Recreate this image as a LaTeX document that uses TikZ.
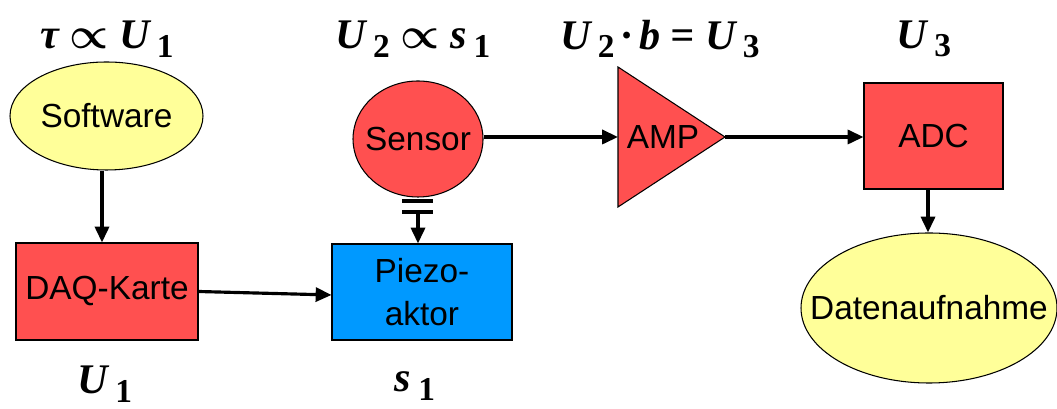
\documentclass[tikz,border=0pt]{standalone}
\usepackage{amsmath}
\usepackage{fontspec}
\setmainfont{Liberation Serif}
\setsansfont{Liberation Sans}
\usetikzlibrary{arrows.meta,shapes.geometric}

\definecolor{boxred}{HTML}{FF5050}
\definecolor{boxyellow}{HTML}{FFFF99}
\definecolor{boxblue}{HTML}{0099FF}

\newcommand{\idx}[1]{\,\raisebox{-0.45ex}{\upshape\fontsize{19}{19}\selectfont #1}}

\begin{document}
\begin{tikzpicture}[
  block/.style={draw, line width=0.6pt, fill=boxred, font=\sffamily\fontsize{19}{24}\selectfont, align=center, inner sep=0pt},
  blob/.style={ellipse, draw, line width=0.6pt, fill=boxyellow, font=\sffamily\fontsize{19}{24}\selectfont, inner xsep=-0.7cm, inner ysep=0pt},
  eq/.style={font=\bfseries\itshape\fontsize{24}{24}\selectfont, inner sep=0pt},
  link/.style={line width=1.8pt, -{Triangle[length=9pt,width=8pt]}},
  plate/.style={line width=2.3pt}
]
\useasboundingbox (0,0) rectangle (21.14,8.18);

% Software and DAQ card
\node[blob, minimum width=3.86cm, minimum height=2.16cm] (software) at (2.13,5.86) {Software};
\node[block, minimum width=3.64cm, minimum height=1.94cm] (daq) at (2.14,2.35) {DAQ-Karte};

% Piezo and sensor
\node[block, fill=boxblue, minimum width=3.6cm, minimum height=1.92cm] (piezo) at (8.44,2.34) {Piezo-\\aktor};
\node[block, ellipse, inner xsep=-0.3cm, minimum width=2.6cm, minimum height=2.32cm] (sensor) at (8.36,5.40) {Sensor};

% Amplifier
\draw[line width=0.6pt, fill=boxred] (12.36,6.84) -- (14.5,5.44) -- (12.36,4.04) -- cycle;
\coordinate (ampin) at (12.36,5.44);
\coordinate (ampout) at (14.5,5.44);
\node[font=\sffamily\fontsize{19}{24}\selectfont, inner sep=0pt] (amp) at (13.26,5.44) {AMP};

% ADC and acquisition
\node[block, minimum width=2.78cm, minimum height=2.12cm] (adc) at (18.67,5.46) {ADC};
\node[blob, minimum width=5.12cm, minimum height=3.0cm] (daten) at (18.58,2.02) {Datenaufnahme};

% Coupling sensor / piezo
\draw[plate] (8.04,4.16) -- (8.66,4.16);
\draw[plate] (8.04,3.94) -- (8.66,3.94);
\coordinate (gap) at (8.36,3.94);

% Connections
\draw[link] (software.south -| 2.04,0) -- (2.04,0 |- daq.north);
\draw[link] (daq.east) -- ([yshift=-0.06cm]piezo.west);
\draw[link] (gap) -- (gap |- piezo.north);
\draw[link] (sensor.east |- ampin) -- (ampin);
\draw[link] (ampout) -- (ampout -| adc.west);
\draw[link] (adc.south -| 18.56,0) -- (18.56,0 |- daten.north);

% Labels
\node[eq] (eqtau) at (2.14,7.4) {τ {\boldmath$\propto$} U\idx{1}};
\node[eq] (eqsensor) at (8.26,7.4) {U\idx{2} {\boldmath$\propto$} s\idx{1}};
\node[eq] (eqamp) at (13.2,7.4) {U\idx{2}\,·\,b = U\idx{3}};
\node[eq] (eqadc) at (18.48,7.4) {U\idx{3}};
\node[eq] (equone) at (2.1,0.5) {U\idx{1}};
\node[eq] (eqsone) at (8.3,0.46) {s\idx{1}};

\end{tikzpicture}
\end{document}
